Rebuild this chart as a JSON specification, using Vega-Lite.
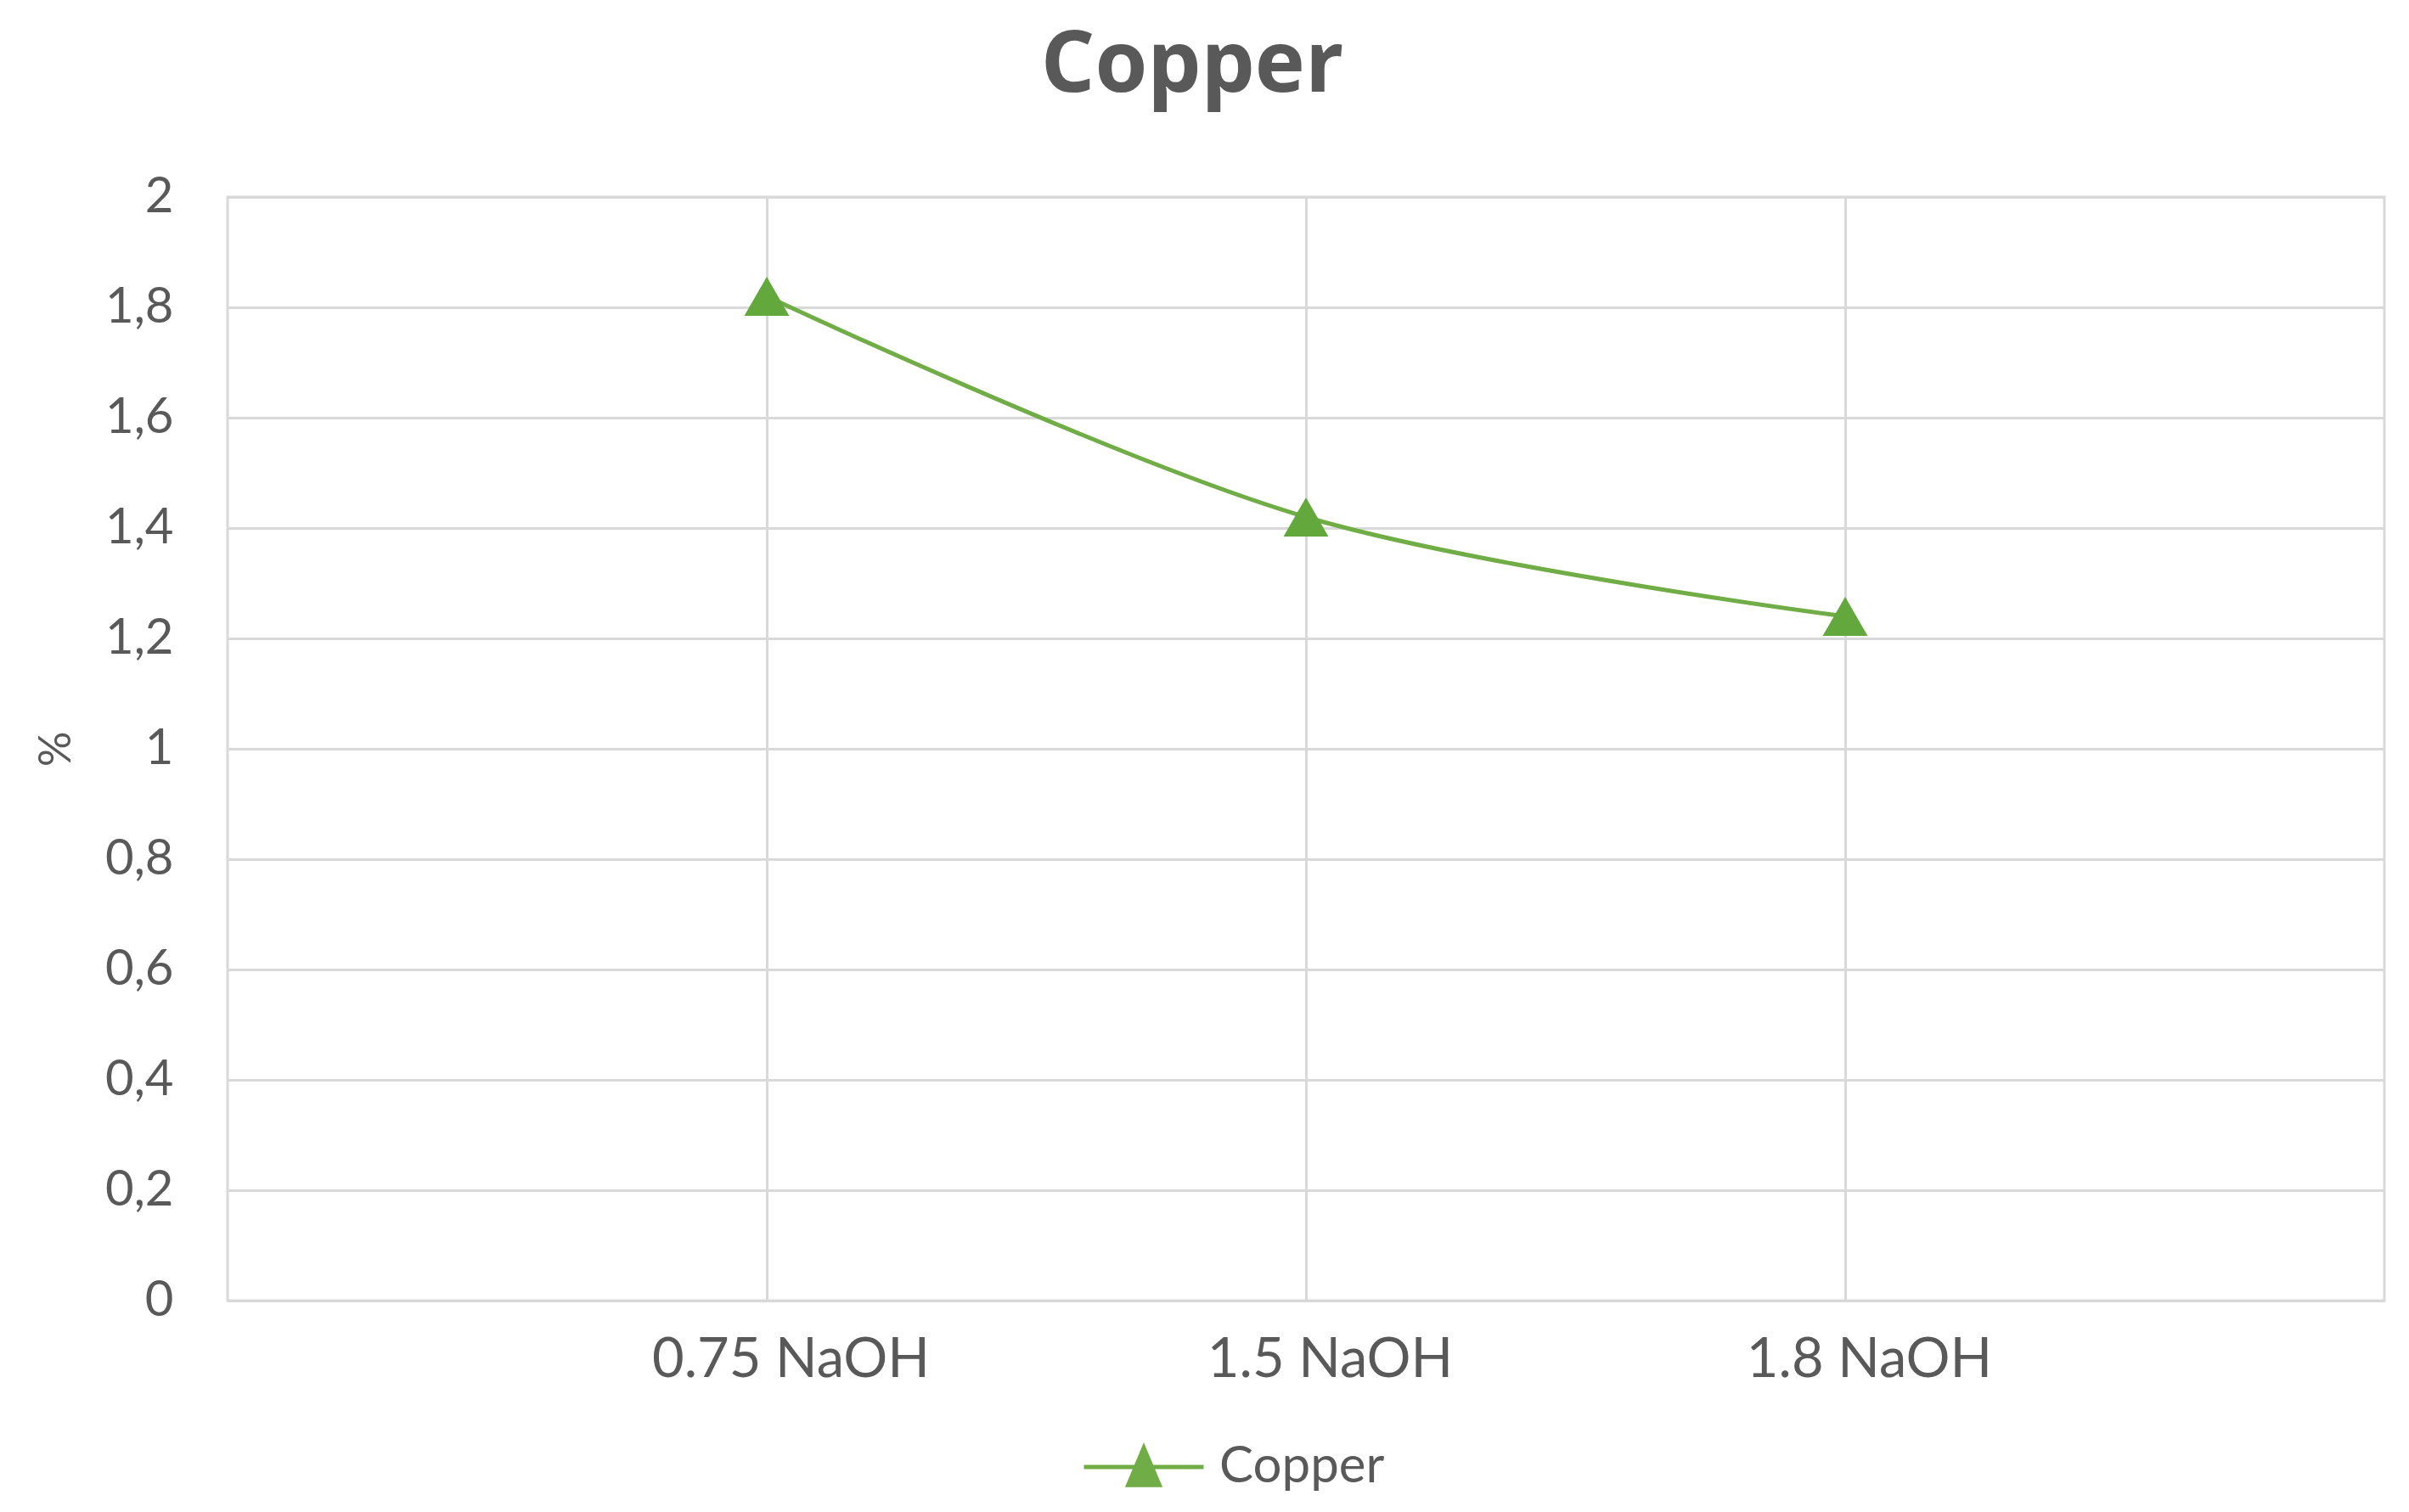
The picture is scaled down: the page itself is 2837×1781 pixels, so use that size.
{
  "$schema": "https://vega.github.io/schema/vega-lite/v6.json",
  "width": 2540,
  "height": 1300,
  "autosize": "none",
  "padding": {"left": 268, "top": 232, "right": 29, "bottom": 249},
  "background": "white",
  "title": {"text": "Copper", "fontSize": 100, "font": "Open Sans", "fontWeight": "bold", "color": "#595959", "offset": 74, "anchor": "middle", "dx": -134},
  "config": {"view": {"stroke": "#d9d9d9", "strokeWidth": 3}},
  "data": {"values": [
    {"conc": "0.75 NaOH", "value": 1.82, "series": "Copper"},
    {"conc": "1.5 NaOH", "value": 1.42, "series": "Copper"},
    {"conc": "1.8 NaOH", "value": 1.24, "series": "Copper"}
  ]},
  "encoding": {
    "x": {"field": "conc", "type": "nominal", "sort": null, "scale": {"type": "point", "padding": 1},
      "axis": {"title": null, "labelAngle": 0, "labelFont": "Lato", "labelFontSize": 65, "labelColor": "#595959", "labelPadding": 38, "labelOffset": 28, "labelLimit": 0, "ticks": false, "domain": false, "grid": true, "gridColor": "#d9d9d9", "gridWidth": 3}},
    "y": {"field": "value", "type": "quantitative", "scale": {"domain": [0, 2], "nice": false},
      "axis": {"title": "%", "titleFont": "Lato", "titleFontSize": 52, "titleFontWeight": "normal", "titleColor": "#595959", "titlePadding": 30, "labelFont": "Lato", "labelFontSize": 58, "labelColor": "#595959", "labelPadding": 64, "ticks": false, "domain": false, "grid": true, "gridColor": "#d9d9d9", "gridWidth": 3, "values": [0, 0.2, 0.4, 0.6, 0.8, 1, 1.2, 1.4, 1.6, 1.8, 2], "labelExpr": "replace(format(datum.value, '~g'), '.', ',')"}}
  },
  "layer": [
    {"mark": {"type": "line", "interpolate": "catmull-rom", "strokeWidth": 5},
     "encoding": {"color": {"field": "series", "type": "nominal", "scale": {"range": ["#70AD47"]},
       "legend": {"orient": "none", "legendX": 1006, "legendY": 1423, "title": null, "symbolType": "M-1,0H1M0,-0.32L0.26,0.3H-0.26Z", "symbolSize": 19881, "symbolStrokeWidth": 5, "symbolFillColor": "#70AD47", "labelFont": "Lato", "labelFontSize": 60, "labelColor": "#595959", "labelOffset": 16, "labelLimit": 0,
         "symbolOpacity": 1}}}},
    {"mark": {"type": "point", "shape": "triangle-up", "filled": true, "size": 2800, "color": "#62A83C", "opacity": 1}}
  ]
}
